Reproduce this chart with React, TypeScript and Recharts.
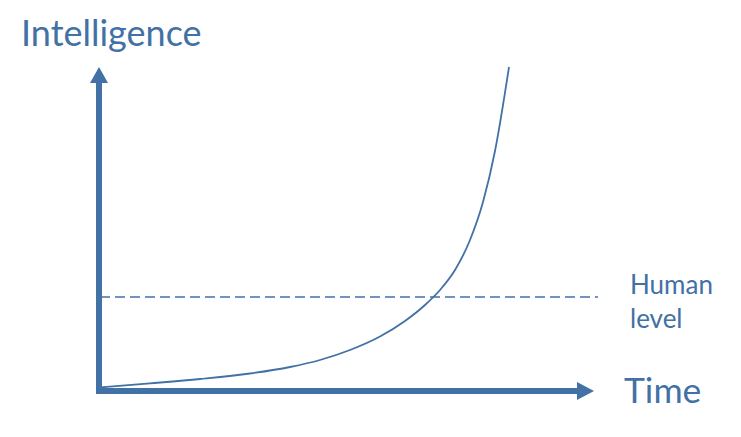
import React from 'react';
import { ComposedChart, Line, XAxis, YAxis, ReferenceLine } from 'recharts';

const timeValues = [1, 51, 101, 151, 191, 221, 251, 281, 306, 326, 341, 356, 371, 384, 396, 410];
const intelligenceValues = [3.5, 7.6, 12, 17.5, 24, 31, 41, 54.5, 70, 86, 101, 121, 151, 189, 240, 324];
const humanLevel = 94;
const timeAxisEnd = 495;
const intelligenceAxisEnd = 324;
const dashStart = 1;
const dashEnd = 499;

const yAxisTitle = 'Intelligence';
const xAxisTitle = 'Time';
const humanLabelLines = ['Human', 'level'];

const COLOR = '#4171A5';
const FONT = 'Lato, "Open Sans", sans-serif';

const data = timeValues.map((t, i) => ({ time: t, intelligence: intelligenceValues[i] }));

const YArrow = (p: any) => {
  const { x1, y1, y2 } = p;
  const x = x1;
  const bottom = Math.max(y1, y2);
  const top = Math.min(y1, y2);
  return (
    <g>
      <line x1={x} y1={bottom + 2} x2={x} y2={top + 14} stroke={COLOR} strokeWidth={6} />
      <polygon points={`${x},${top} ${x - 9},${top + 16} ${x + 9},${top + 16}`} fill={COLOR} />
      <text x={21} y={46} fill={COLOR} fontFamily={FONT} fontSize={36}>{yAxisTitle}</text>
    </g>
  );
};

const XArrow = (p: any) => {
  const { x1, y1, x2 } = p;
  const y = y1;
  const left = Math.min(x1, x2);
  const right = Math.max(x1, x2);
  return (
    <g>
      <line x1={left - 3} y1={y} x2={right - 15} y2={y} stroke={COLOR} strokeWidth={6} />
      <polygon points={`${right},${y} ${right - 17},${y - 9} ${right - 17},${y + 9}`} fill={COLOR} />
      <text x={624} y={403} fill={COLOR} fontFamily={FONT} fontSize={35.5}>{xAxisTitle}</text>
    </g>
  );
};

const HumanLine = (p: any) => {
  const { x1, y1, x2, y2 } = p;
  return (
    <g>
      <line x1={x1} y1={y1} x2={x2} y2={y2} stroke={COLOR} strokeWidth={1.6} strokeDasharray="10 5" />
      {humanLabelLines.map((t, i) => (
        <text key={t} x={630} y={294 + i * 34} fill={COLOR} fontFamily={FONT} fontSize={26}>{t}</text>
      ))}
    </g>
  );
};

export default function App() {
  return (
    <div style={{ position: 'absolute', left: 0, top: 0, width: 741, height: 437, background: '#fff' }}>
      <ComposedChart width={741} height={437} data={data} margin={{ top: 67, right: 142, bottom: 46, left: 99 }}>
        <XAxis dataKey="time" type="number" domain={[0, 500]} hide />
        <YAxis type="number" domain={[0, 324]} hide />
        <ReferenceLine segment={[{ x: dashStart, y: humanLevel }, { x: dashEnd, y: humanLevel }]} shape={HumanLine} />
        <Line dataKey="intelligence" type="monotone" stroke={COLOR} strokeWidth={1.8} dot={false} isAnimationActive={false} />
        <ReferenceLine segment={[{ x: 0, y: 0 }, { x: 0, y: intelligenceAxisEnd }]} shape={YArrow} />
        <ReferenceLine segment={[{ x: 0, y: 0 }, { x: timeAxisEnd, y: 0 }]} shape={XArrow} />
      </ComposedChart>
    </div>
  );
}
